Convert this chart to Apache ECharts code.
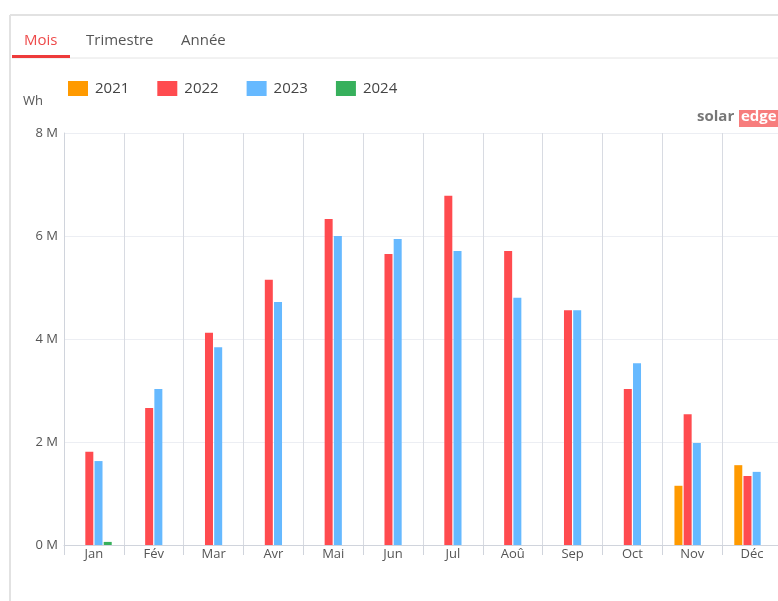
<!DOCTYPE html>
<html>
<head>
<meta charset="utf-8">
<script src="https://cdn.jsdelivr.net/npm/echarts@6/dist/echarts.min.js"></script>
<style>
  html, body { margin: 0; padding: 0; background: #fff; }
  #chart { width: 778px; height: 601px; }
</style>
</head>
<body>
<div id="chart"></div>
<script>
    // monthly production, Wh
    var months = ["Jan", "Fév", "Mar", "Avr", "Mai", "Jun", "Jul", "Aoû", "Sep", "Oct", "Nov", "Déc"];
    var years = ["2021", "2022", "2023", "2024"];
    var prod2021 = [null, null, null, null, null, null, null, null, null, null, 1.15e6, 1.55e6];
    var prod2022 = [1.81e6, 2.66e6, 4.12e6, 5.15e6, 6.33e6, 5.65e6, 6.78e6, 5.71e6, 4.56e6, 3.03e6, 2.54e6, 1.34e6];
    var prod2023 = [1.63e6, 3.03e6, 3.84e6, 4.72e6, 6.0e6, 5.94e6, 5.71e6, 4.80e6, 4.56e6, 3.53e6, 1.98e6, 1.42e6];
    var prod2024 = [0.06e6, null, null, null, null, null, null, null, null, null, null, null];
    var colors = ["#ff9a00", "#ff4b4f", "#66b9ff", "#37b05c"];

    var chart = echarts.init(document.getElementById("chart"));

    function makeSeries(name, data) {
        return {
            name: name,
            type: "bar",
            data: data,
            barWidth: 8,
            barGap: "15%",
            animation: false
        };
    }

    var option = {
        color: colors,
        textStyle: { fontFamily: "Open Sans, sans-serif" },
        legend: {
            left: 63,
            top: 76,
            itemWidth: 20,
            itemHeight: 15,
            itemGap: 28,
            icon: "rect",
            textStyle: { fontSize: 15, color: "#444", fontFamily: "Open Sans, sans-serif", padding: [0, 0, 0, 2] },
            data: years
        },
        grid: { left: 64, top: 133, width: 718, bottom: 56, outerBoundsMode: "none" },
        xAxis: {
            type: "category",
            data: months,
            axisLine: { lineStyle: { color: "#d0d4dc" } },
            axisTick: { show: true, length: 10, lineStyle: { color: "#d0d4dc" } },
            axisLabel: { color: "#555", fontSize: 13, margin: 3 },
            splitLine: { show: true, lineStyle: { color: "#d8dbe2" } }
        },
        yAxis: {
            type: "value",
            min: 0,
            max: 8e6,
            interval: 2e6,
            axisLine: { show: true, lineStyle: { color: "#d0d4dc" } },
            axisLabel: {
                color: "#555",
                fontSize: 13,
                margin: 6,
                formatter: function (v) { return v / 1e6 + " M"; }
            },
            splitLine: { lineStyle: { color: "#eceef3" } }
        },
        graphic: [
            // panel border
            { type: "line", shape: { x1: 10, y1: 15, x2: 778, y2: 15 }, style: { stroke: "#e2e2e2", lineWidth: 2 } },
            { type: "line", shape: { x1: 10, y1: 15, x2: 10, y2: 601 }, style: { stroke: "#e2e2e2", lineWidth: 2 } },
            // tabs
            { type: "line", shape: { x1: 12, y1: 58, x2: 778, y2: 58 }, style: { stroke: "#e4e4e4", lineWidth: 1 } },
            { type: "rect", shape: { x: 12, y: 55, width: 58, height: 3 }, style: { fill: "#ee3b3b" } },
            { type: "text", left: 24, top: 33, style: { text: "Mois", fill: "#ee4a4a", font: "15px Open Sans" } },
            { type: "text", left: 86, top: 33, style: { text: "Trimestre", fill: "#555", font: "15px Open Sans" } },
            { type: "text", left: 181, top: 33, style: { text: "Année", fill: "#555", font: "15px Open Sans" } },
            // unit
            { type: "text", left: 23, top: 95, style: { text: "Wh", fill: "#555", font: "13px Open Sans" } },
            // logo
            { type: "text", left: 697, top: 109, style: { text: "solar", fill: "#777", font: "bold 15px Open Sans" } },
            { type: "rect", shape: { x: 739, y: 110, width: 40, height: 17 }, style: { fill: "#f77d7d" } },
            { type: "text", left: 741, top: 109, style: { text: "edge", fill: "#fff", font: "bold 15px Open Sans" } }
        ],
        series: [
            makeSeries(years[0], prod2021),
            makeSeries(years[1], prod2022),
            makeSeries(years[2], prod2023),
            makeSeries(years[3], prod2024)
        ]
    };

    option && chart.setOption(option);
</script>
</body>
</html>
